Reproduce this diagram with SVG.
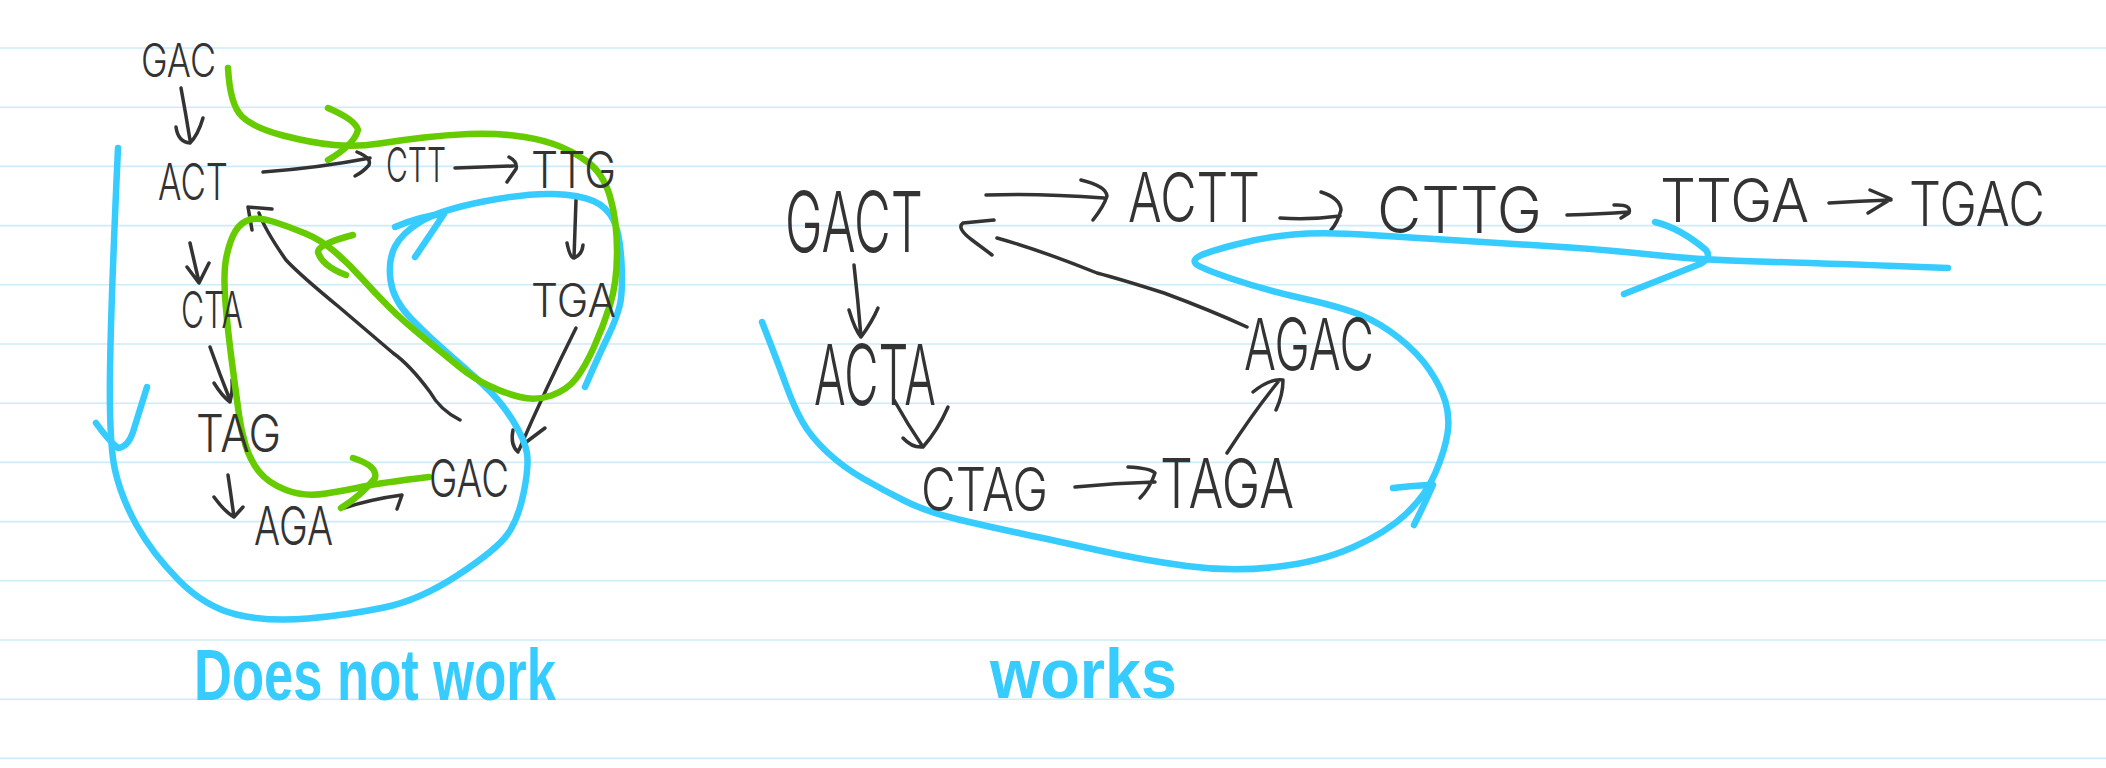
<svg xmlns="http://www.w3.org/2000/svg" width="2106" height="768" viewBox="0 0 2106 768">
<style>
.rule{stroke:#cdebf8;stroke-width:1.6;fill:none}
.ink{stroke:#333333;stroke-width:3.5;fill:none;stroke-linecap:round;stroke-linejoin:round}
.blue{stroke:#36ccff;stroke-width:6.5;fill:none;stroke-linecap:round;stroke-linejoin:round}
.green{stroke:#66cc00;stroke-width:6.5;fill:none;stroke-linecap:round;stroke-linejoin:round}
.lbl{font-family:Inter,"Liberation Sans",sans-serif;font-weight:300;fill:#333333}
.note{font-family:"Liberation Sans",Arial,sans-serif;font-weight:700;fill:#36ccff}
</style>
<rect width="2106" height="768" fill="#ffffff"/>
<g id="paper">
<path class="rule" d="M0,48H2106M0,107.2H2106M0,166.4H2106M0,225.6H2106M0,284.8H2106M0,344H2106M0,403.2H2106M0,462.4H2106M0,521.6H2106M0,580.8H2106M0,640H2106M0,699.2H2106M0,758.4H2106"/>
</g>
<g id="connectors">
<!-- left graph black arrows -->
<path class="ink" d="M181,88 Q186,115 190,140 M176,127 Q178,142 190,143 Q198,135 203,118"/>
<path class="ink" d="M263,172 Q318,168 370,158 M357,152 Q372,158 369,165 Q363,172 355,176"/>
<path class="ink" d="M455,168 L513,166 M509,157 Q518,162 516,169 L507,182"/>
<path class="ink" d="M576,200 L574,258 M567,243 Q570,258 574,258 Q582,255 583,245"/>
<path class="ink" d="M576,328 Q545,390 519,450 M513,430 Q510,445 518,452 M545,428 L521,446"/>
<path class="ink" d="M190,243 Q195,265 199,282 M187,267 L199,283 L209,263"/>
<path class="ink" d="M210,347 Q220,375 230,400 M214,383 Q222,396 230,402 Q233,390 232,380"/>
<path class="ink" d="M228,475 Q231,495 234,517 M214,497 Q225,512 234,517 L243,507"/>
<path class="ink" d="M344,508 Q372,499 402,495 L397,509"/>
<path class="ink" d="M460,420 Q440,410 430,392 Q410,365 393,353 Q360,325 339,307 Q300,275 286,260 Q265,230 259,213 M248,207 L272,209 M248,207 L252,230"/>
<!-- left blue route -->
<path class="blue" d="M118,148 Q111,300 110,371.5 Q109,443 115,470 Q121,497 136.5,525 Q152,553 178.5,580 Q205,607 236.5,614.5 Q268,622 308,618.5 Q348,615 384,607.5 Q420,600 458,575 Q496,550 507,535 Q518,520 523.5,493.5 Q529,467 527,453.5 Q525,440 512.5,420 Q500,400 482.5,384 Q465,368 447,352.5 Q429,337 411,318.5 Q393,300 390.5,280 Q388,260 395,246.5 Q402,233 421,221.5 Q440,210 483.5,201.5 Q527,193 553.5,194 Q580,195 593.5,201 Q607,207 613.5,220 Q620,233 621.5,263 Q623,293 619.5,306.5 Q616,320 607,338.5 Q598,357 585,387"/>
<path class="blue" d="M96,423 Q108,440 118,448 Q128,447 133,432 L147,387"/>
<path class="blue" d="M395,227 Q420,216 444,214 Q430,235 415,257"/>
<!-- left green route -->
<path class="green" d="M228,68 Q230,105 242,116.5 Q254,128 283,135.5 Q312,143 334.5,145 Q357,147 379.5,143.5 Q402,140 424,137.5 Q446,135 468.5,134 Q491,133 513.5,135.5 Q536,138 553.5,144 Q571,150 587,161.5 Q603,173 610,196.5 Q617,220 617,251.5 Q617,283 610,305 Q603,327 594,347 Q585,367 576,378.5 Q567,390 551.5,395.5 Q536,401 520,397 Q504,393 488.5,385.5 Q473,378 459.5,367 Q446,356 424,338 Q402,320 388.5,306.5 Q375,293 361.5,278 Q348,263 334.5,251.5 Q321,240 305.5,233.5 Q290,227 274.5,222 Q259,217 250,219.5 Q241,222 235.5,231 Q230,240 226.5,256.5 Q223,273 225.5,303 Q228,333 232.5,366.5 Q237,400 239,415 Q241,430 245.5,445 Q250,460 259,471.5 Q268,483 286,490 Q304,497 326,493.5 Q348,490 363.5,486.5 Q379,483 429,477"/>
<path class="green" d="M328,108 Q356,120 358,130 Q354,145 328,160"/>
<path class="green" d="M353,235 Q318,244 318,252 Q322,266 346,275"/>
<path class="green" d="M353,458 Q378,466 375,478 Q362,495 341,508"/>
<!-- right graph black arrows -->
<path class="ink" d="M986,195 Q1040,193 1104,198 M1081,180 Q1106,186 1107,196 Q1104,206 1093,220"/>
<path class="ink" d="M1280,218 Q1310,220 1340,216 M1321,192 Q1340,198 1341,210 Q1338,222 1331,230"/>
<path class="ink" d="M1567,215 Q1600,214 1629,212 M1614,205 Q1632,204 1629,213 L1621,218"/>
<path class="ink" d="M1829,203 Q1860,201 1891,200 M1870,190 L1891,199 L1868,213"/>
<path class="ink" d="M854,265 Q858,300 861,337 M849,310 Q855,330 861,337 Q872,322 878,308"/>
<path class="ink" d="M894,400 Q908,425 923,447 M903,438 Q912,448 923,447 Q938,430 948,407"/>
<path class="ink" d="M1075,487 Q1115,483 1155,482 M1128,467 Q1150,468 1155,473 Q1150,488 1140,498"/>
<path class="ink" d="M1227,453 Q1255,410 1278,382 M1253,392 Q1270,378 1283,380 Q1283,395 1276,410"/>
<path class="ink" d="M1247,327 Q1210,310 1164,293 Q1120,279 1097,273 Q1040,250 997,238 M994,220 L963,223 Q956,228 972,240 L992,255"/>
<!-- right blue route -->
<path class="blue" d="M762,322 Q778,363 786,385 Q794,407 802.5,422 Q811,437 827,452 Q843,467 863,478.5 Q883,490 905,501 Q927,512 958.5,519.5 Q990,527 1021,533.5 Q1052,540 1097,550 Q1142,560 1186.5,566 Q1231,572 1275.5,567 Q1320,562 1353.5,547 Q1387,532 1406.5,513.5 Q1426,495 1435.5,472.5 Q1445,450 1447.5,433.5 Q1450,417 1445.5,402 Q1441,387 1429.5,370 Q1418,353 1399,338 Q1380,323 1360.5,315 Q1341,307 1303,298.5 Q1265,290 1232.5,279 Q1200,268 1196,264 Q1192,260 1199.5,256 Q1207,252 1236,244.5 Q1265,237 1293.5,234.5 Q1322,232 1370,235 Q1418,238 1474.5,241.5 Q1531,245 1570,247.5 Q1609,250 1655,255 Q1701,260 1757.5,261.5 Q1814,263 1948,268"/>
<path class="blue" d="M1393,488 Q1410,486 1428,485 M1414,525 Q1424,505 1433,485"/>
<path class="blue" d="M1655,222 Q1680,228 1706,250 Q1712,258 1700,264 L1624,294"/>
</g>
<g id="n_gac_top"><text class="lbl" x="141" y="77" font-size="46" textLength="75" lengthAdjust="spacingAndGlyphs">GAC</text></g>
<g id="n_act"><text class="lbl" x="158" y="200" font-size="50" textLength="70" lengthAdjust="spacingAndGlyphs">ACT</text></g>
<g id="n_ctt"><text class="lbl" x="386" y="182" font-size="48" textLength="60" lengthAdjust="spacingAndGlyphs">CTT</text></g>
<g id="n_ttg"><text class="lbl" x="531" y="188" font-size="50" textLength="85" lengthAdjust="spacingAndGlyphs">TTG</text></g>
<g id="n_cta"><text class="lbl" x="181" y="328" font-size="50" textLength="62" lengthAdjust="spacingAndGlyphs">CTA</text></g>
<g id="n_tga"><text class="lbl" x="531" y="317" font-size="46" textLength="85" lengthAdjust="spacingAndGlyphs">TGA</text></g>
<g id="n_tag"><text class="lbl" x="196" y="452" font-size="52" textLength="85" lengthAdjust="spacingAndGlyphs">TAG</text></g>
<g id="n_aga"><text class="lbl" x="254" y="545" font-size="54" textLength="79" lengthAdjust="spacingAndGlyphs">AGA</text></g>
<g id="n_gac"><text class="lbl" x="429" y="497" font-size="52" textLength="80" lengthAdjust="spacingAndGlyphs">GAC</text></g>
<g id="label_left"><text class="note" x="194" y="700" font-size="72" textLength="362" lengthAdjust="spacingAndGlyphs">Does not work</text></g>
<g id="n_gact"><text class="lbl" x="785" y="252" font-size="84" textLength="138" lengthAdjust="spacingAndGlyphs">GACT</text></g>
<g id="n_actt"><text class="lbl" x="1128" y="222" font-size="68" textLength="132" lengthAdjust="spacingAndGlyphs">ACTT</text></g>
<g id="n_cttg"><text class="lbl" x="1377" y="233" font-size="64" textLength="165" lengthAdjust="spacingAndGlyphs">CTTG</text></g>
<g id="n_ttga"><text class="lbl" x="1660" y="222" font-size="60" textLength="149" lengthAdjust="spacingAndGlyphs">TTGA</text></g>
<g id="n_tgac"><text class="lbl" x="1909" y="226" font-size="62" textLength="136" lengthAdjust="spacingAndGlyphs">TGAC</text></g>
<g id="n_acta"><text class="lbl" x="814" y="405" font-size="84" textLength="122" lengthAdjust="spacingAndGlyphs">ACTA</text></g>
<g id="n_ctag"><text class="lbl" x="921" y="511" font-size="60" textLength="127" lengthAdjust="spacingAndGlyphs">CTAG</text></g>
<g id="n_taga"><text class="lbl" x="1160" y="508" font-size="68" textLength="134" lengthAdjust="spacingAndGlyphs">TAGA</text></g>
<g id="n_agac"><text class="lbl" x="1244" y="370" font-size="72" textLength="130" lengthAdjust="spacingAndGlyphs">AGAC</text></g>
<g id="label_right"><text class="note" x="990" y="698" font-size="70" textLength="187" lengthAdjust="spacingAndGlyphs">works</text></g>
</svg>
